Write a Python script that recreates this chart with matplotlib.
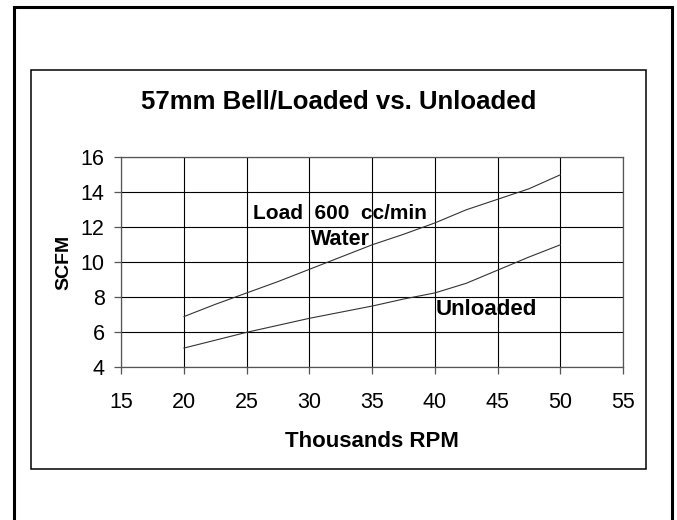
import matplotlib.pyplot as plt
from matplotlib.patches import Rectangle

plt.rcParams['font.family'] = ['Liberation Sans', 'DejaVu Sans']

rpm = [20, 22.5, 25, 27.5, 30, 32.5, 35, 37.5, 40, 42.5, 45, 47.5, 50]
loaded = [6.9, 7.6, 8.25, 8.9, 9.6, 10.3, 11.0, 11.6, 12.25, 13.0, 13.6, 14.2, 15.0]
unloaded = [5.1, 5.55, 6.0, 6.4, 6.8, 7.15, 7.5, 7.9, 8.25, 8.8, 9.55, 10.3, 11.0]

xticks = [15, 20, 25, 30, 35, 40, 45, 50, 55]
yticks = [4, 6, 8, 10, 12, 14, 16]

fig = plt.figure(figsize=(6.77, 5.2), dpi=100)

# outer frame and chart frame
fig.patches.append(Rectangle((13.5 / 677, -0.05), (671.5 - 13.5) / 677, 1.05 - 7 / 520,
                             transform=fig.transFigure, fill=False, lw=2.2, ec='black'))
fig.patches.append(Rectangle((31 / 677, 1 - 469 / 520), (646 - 31) / 677, (469 - 70) / 520,
                             transform=fig.transFigure, fill=False, lw=1.1, ec='black'))

ax = fig.add_axes([121.3 / 677, 1 - 367.3 / 520, (623 - 121.3) / 677, (367.3 - 157.3) / 520])
ax.plot(rpm, loaded, color='#333333', lw=0.8)
ax.plot(rpm, unloaded, color='#333333', lw=0.8)

ax.set_xlim(15, 55)
ax.set_ylim(4, 16)
ax.set_xticks(xticks)
ax.set_yticks(yticks)
ax.grid(True, color='black', lw=0.8)
ax.set_axisbelow(True)
for s in ax.spines.values():
    s.set_color('#555555')
    s.set_linewidth(0.9)
ax.tick_params(labelsize=15.5, length=5, width=0.9, color='#555555')
ax.tick_params(axis='x', pad=13)
ax.tick_params(axis='y', pad=7)
ax.set_xlabel('Thousands RPM', fontsize=16, fontweight='bold', labelpad=13)
ax.set_ylabel('SCFM', fontsize=14, fontweight='bold', labelpad=6)

ax.text(32.46, 12.47, 'Load  600  cc/min', fontsize=15, fontweight='bold', ha='center', va='baseline')
ax.text(32.46, 11.0, 'Water', fontsize=15.5, fontweight='bold', ha='center', va='baseline')
ax.text(40.1, 6.99, 'Unloaded', fontsize=16, fontweight='bold', ha='left', va='baseline')

fig.text(339 / 677, 1 - 101.7 / 520, '57mm Bell/Loaded vs. Unloaded', fontsize=18.5,
         fontweight='bold', ha='center', va='center')

fig.savefig('out.png', dpi=100)
